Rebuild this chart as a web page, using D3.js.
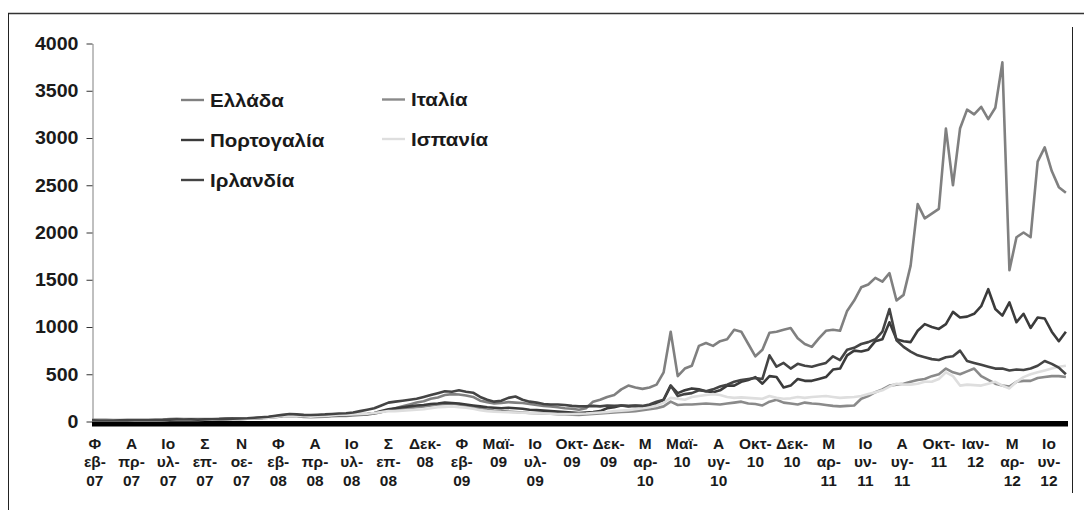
<!DOCTYPE html>
<html><head><meta charset="utf-8">
<script src="https://cdn.jsdelivr.net/npm/d3@7"></script>
<style>
body{margin:0;background:#fff;}
svg{display:block;font-family:"Liberation Sans",Arial,sans-serif;}
</style>
</head><body>
<svg id="c" width="1084" height="522"></svg>
<script>
// ---- data (CDS spreads, bp), one sample every 10 trading days from Feb-07 ----
const seriesNames = ["Ελλάδα", "Ιταλία", "Πορτογαλία", "Ισπανία", "Ιρλανδία"];
const seriesColors = ["#808080", "#8a8a8a", "#3b3b3b", "#dedede", "#444444"];

const greece = [
  18,17,17,16,16,18,18,17,17,19,
  20,25,28,26,27,25,26,27,28,30,
  31,32,33,35,38,45,52,62,75,68,
  60,58,62,65,70,72,70,75,80,78,
  85,100,120,140,160,180,200,215,240,255,
  280,290,285,275,260,220,205,190,195,205,
  200,195,185,175,165,160,150,140,135,125,
  140,210,230,260,280,340,380,360,345,360,
  390,520,950,480,560,590,800,830,800,850,
  870,970,950,820,690,760,940,950,970,990,
  880,820,790,880,960,970,960,1170,1280,1420,
  1450,1520,1480,1570,1280,1340,1650,2300,2150,2200,
  2250,3100,2500,3100,3300,3250,3330,3200,3320,3800,
  1600,1950,2000,1950,2750,2900,2650,2480,2420
];
const italy = [
  12,12,12,11,12,12,13,13,14,15,
  16,20,22,20,21,20,21,22,23,24,
  26,28,30,32,35,40,45,55,60,55,
  48,45,48,52,55,58,60,65,70,75,
  85,100,120,125,135,140,150,160,170,180,
  185,190,180,170,155,140,125,115,110,105,
  100,95,90,88,85,82,78,75,72,70,
  75,80,85,90,95,100,105,110,120,130,
  140,160,210,175,180,180,185,190,185,180,
  190,200,210,190,185,170,210,230,200,190,
  180,200,190,185,175,165,160,165,170,240,
  270,310,340,380,390,400,420,440,450,480,
  500,560,520,500,530,560,480,440,400,380,
  370,420,430,430,460,470,480,480,470
];
const portugal = [
  10,10,10,10,11,11,12,12,12,13,
  14,18,20,19,20,19,20,22,23,25,
  27,28,30,33,38,45,55,60,68,62,
  55,52,55,58,62,65,68,72,75,80,
  90,110,130,140,150,160,170,175,185,190,
  200,195,190,180,170,160,150,145,140,145,
  140,135,125,120,115,110,105,100,95,90,
  95,100,110,140,150,170,160,165,160,165,
  190,230,380,300,330,350,340,320,310,330,
  380,380,420,440,470,400,480,470,360,380,
  450,430,430,450,470,550,560,700,750,740,
  760,850,870,1050,870,850,840,960,1030,1000,
  980,1030,1160,1100,1110,1140,1220,1400,1190,1120,
  1260,1050,1140,990,1100,1090,950,850,950
];
const spain = [
  10,10,10,10,10,11,11,12,12,12,
  13,16,18,17,18,17,18,20,22,24,
  25,28,30,32,35,40,48,58,65,60,
  55,52,55,60,65,70,72,75,78,82,
  90,100,110,110,115,120,125,130,140,150,
  155,160,150,145,135,120,110,105,100,98,
  95,92,90,88,85,82,80,78,80,82,
  85,90,95,100,110,115,120,130,140,150,
  170,200,250,240,230,260,270,280,290,280,
  260,250,255,250,245,240,270,250,240,245,
  260,250,260,265,270,260,250,255,260,270,
  290,310,330,370,400,390,390,400,420,420,
  450,520,480,380,390,385,380,400,420,380,
  350,420,470,500,520,540,560,580,590
];
const ireland = [
  12,11,11,11,12,12,13,13,14,15,
  16,20,22,21,22,20,22,24,25,28,
  30,32,35,40,45,50,60,70,80,75,
  70,68,72,75,80,85,88,95,110,125,
  140,170,200,210,220,230,240,260,280,300,
  320,315,330,315,305,260,230,210,220,250,
  265,230,210,200,185,180,180,175,165,160,
  160,165,160,170,165,170,165,170,165,180,
  210,230,380,270,290,300,330,320,340,370,
  390,420,440,450,460,450,700,580,620,560,
  610,590,580,600,620,690,650,760,780,820,
  840,870,950,1190,860,790,740,700,680,660,
  650,680,690,750,640,620,600,580,560,560,
  540,550,545,560,590,640,610,570,500
];
const seriesValues = [greece, italy, portugal, spain, ireland];

const yTicks = [0, 500, 1000, 1500, 2000, 2500, 3000, 3500, 4000];
const xTickLabels = [
  "Φ\nεβ-\n07","Α\nπρ-\n07","Ιο\nυλ-\n07","Σ\nεπ-\n07","Ν\nοε-\n07",
  "Φ\nεβ-\n08","Α\nπρ-\n08","Ιο\nυλ-\n08","Σ\nεπ-\n08","Δεκ-\n08",
  "Φ\nεβ-\n09","Μαϊ-\n09","Ιο\nυλ-\n09","Οκτ-\n09","Δεκ-\n09",
  "Μ\nαρ-\n10","Μαϊ-\n10","Α\nυγ-\n10","Οκτ-\n10","Δεκ-\n10",
  "Μ\nαρ-\n11","Ιο\nυν-\n11","Α\nυγ-\n11","Οκτ-\n11","Ιαν-\n12",
  "Μ\nαρ-\n12","Ιο\nυν-\n12"
];
const sampleStep = 10;     // trading days between samples
const dayCount = 1383;     // trading days on the axis
const labelStart = 4, labelEvery = 52;

// ---- drawing ----
const svg = d3.select("#c");
const x = d3.scaleLinear().domain([0, dayCount]).range([92, 1068]);
const y = d3.scaleLinear().domain([0, 4000]).range([421.5, 43.5]);

// outer frame
svg.append("line").attr("x1", 8).attr("x2", 1084).attr("y1", 13.5).attr("y2", 13.5)
  .attr("stroke", "#333").attr("stroke-width", 1.4);
svg.append("line").attr("x1", 8.5).attr("x2", 8.5).attr("y1", 13).attr("y2", 510)
  .attr("stroke", "#222").attr("stroke-width", 1);
svg.append("line").attr("x1", 1072.5).attr("x2", 1072.5).attr("y1", 27).attr("y2", 493)
  .attr("stroke", "#222").attr("stroke-width", 1);

// y axis
const yAxis = svg.append("g").attr("transform", "translate(92.5,0)")
  .call(d3.axisLeft(y).tickValues(yTicks).tickFormat(d3.format("d"))
    .tickSize(6).tickSizeOuter(0).tickPadding(8));
yAxis.select(".domain").attr("stroke", "#808080");
yAxis.selectAll(".tick line").attr("stroke", "#333");
yAxis.selectAll(".tick text").attr("font-size", 18.5).attr("font-weight", "bold")
  .attr("fill", "#1a1a1a").attr("font-family", "'Liberation Sans',Arial,sans-serif")
  .attr("transform", "scale(1.06,1)").attr("x", -14 / 1.06);

// thick x axis bar
svg.append("line").attr("x1", x(0)).attr("x2", x(dayCount))
  .attr("y1", y(0) + 2.3).attr("y2", y(0) + 2.3)
  .attr("stroke", "#000").attr("stroke-width", 5.5);

// series
const line = d3.line().x((d, i) => x(i * sampleStep)).y(d => y(d));
seriesValues.forEach((vals, k) => {
  svg.append("path").datum(vals).attr("d", line)
    .attr("fill", "none").attr("stroke", seriesColors[k])
    .attr("stroke-width", 2.6).attr("stroke-linejoin", "round");
});

// x labels
const xl = svg.append("g").attr("font-size", 14.3).attr("font-weight", "bold")
  .attr("fill", "#1a1a1a").attr("text-anchor", "middle");
xTickLabels.forEach((lab, k) => {
  const t = xl.append("text")
    .attr("transform", `translate(${x(labelStart + k * labelEvery)},0) scale(1.08,1)`);
  lab.split("\n").forEach((s, j) => {
    t.append("tspan").attr("x", 0).attr("y", 449 + j * 18.5).text(s);
  });
});

// legend
const legendPos = [[181, 100], [382, 99.5], [181, 140], [382, 139], [181, 180]];
seriesNames.forEach((name, k) => {
  const [lx, ly] = legendPos[k];
  const g = svg.append("g");
  g.append("line").attr("x1", lx).attr("x2", lx + 23).attr("y1", ly).attr("y2", ly)
    .attr("stroke", seriesColors[k]).attr("stroke-width", 2.4);
  g.append("text").attr("transform", `translate(${lx + 29},${ly}) scale(1.08,1)`)
    .attr("dy", "0.35em")
    .attr("font-size", 19).attr("font-weight", "bold").attr("fill", "#1a1a1a").text(name);
});
</script>
</body></html>
